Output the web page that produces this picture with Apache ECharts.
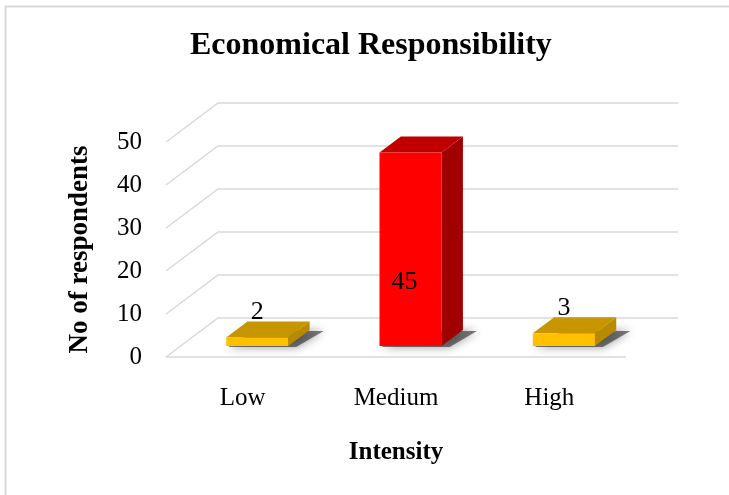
<!DOCTYPE html>
<html>
<head>
<meta charset="utf-8">
<style>
  html, body { margin: 0; padding: 0; background: #fff; }
  #chart { width: 729px; height: 495px; }
</style>
<script src="https://cdn.jsdelivr.net/npm/echarts@6/dist/echarts.min.js"></script>
</head>
<body>
<div id="chart"></div>
<script>
// Intensity levels and number of respondents in each
const categories = ['Low', 'Medium', 'High'];
const respondents = [2, 45, 3];
const yTicks = [0, 10, 20, 30, 40, 50];

const FONT = '"Liberation Serif", "Times New Roman", serif';
// depth vector of the pseudo-3D floor (front plane -> back wall), in px
const DX = 52, DY = -39;
// bar sits between these fractions of the depth
const F1 = 0.28, F2 = 0.69;
const faceColors = {
  Low:    { front: '#FFC000', top: '#C69500', side: '#B88A00' },
  Medium: { front: '#FF0000', top: '#C00000', side: '#A00000' },
  High:   { front: '#FFC000', top: '#C69500', side: '#B88A00' }
};
const yMax = yTicks[yTicks.length - 1];

const chart = echarts.init(document.getElementById('chart'));

function renderWall(params, api) {
  const v = api.value(1);
  const cs = params.coordSys;
  const p = api.coord([0, v]);
  const x0 = cs.x, x1 = cs.x + cs.width, y = p[1];
  const style = { stroke: '#D9D9D9', lineWidth: 1.5, fill: null };
  const children = [{
    type: 'polyline',
    shape: { points: [[x0, y], [x0 + DX, y + DY], [x1 + DX, y + DY]] },
    style: style
  }];
  if (v === 0) {
    children.push({ type: 'line', shape: { x1: x0, y1: y, x2: x1, y2: y }, style: style });
  }
  return { type: 'group', children: children };
}

function renderBar(params, api) {
  const i = api.value(0), v = api.value(1);
  const base = api.coord([i, 0]);
  const topP = api.coord([i, v]);
  const band = api.size([1, 0])[0];
  const w = band * 0.405;
  const c = faceColors[categories[i]];
  const xl = base[0] - w / 2 + F1 * DX;
  const xr = xl + w;
  const yb = base[1] + F1 * DY;
  const yt = topP[1] + F1 * DY;
  const ddx = (F2 - F1) * DX, ddy = (F2 - F1) * DY;
  const sx = 8, sy = 1;
  const inside = v > 0.8 * yMax;
  const labelY = inside ? yb - (yb - yt) * 0.33 : yt + ddy - 9;
  const labelX = inside ? (xl + xr) / 2 - 6 : (xl + xr) / 2;
  return {
    type: 'group',
    children: [
      {
        // soft drop shadow cast on the floor
        type: 'polygon',
        shape: { points: [[xl + sx - 6, yb + sy], [xr + sx, yb + sy], [xr + ddx + sx + 6, yb + ddy + sy], [xl + ddx + sx, yb + ddy + sy]] },
        style: { fill: 'rgba(40,40,40,0.6)', shadowBlur: 10, shadowColor: 'rgba(0,0,0,0.7)' }
      },
      {
        type: 'polygon',
        shape: { points: [[xr, yt], [xr, yb], [xr + ddx, yb + ddy], [xr + ddx, yt + ddy]] },
        style: { fill: c.side }
      },
      {
        type: 'polygon',
        shape: { points: [[xl, yt], [xr, yt], [xr + ddx, yt + ddy], [xl + ddx, yt + ddy]] },
        style: { fill: c.top }
      },
      {
        type: 'rect',
        shape: { x: xl, y: yt, width: w, height: yb - yt },
        style: { fill: c.front }
      },
      {
        type: 'text',
        x: labelX, y: labelY,
        style: {
          text: String(v), fill: '#000', font: '26px ' + FONT,
          align: 'center', verticalAlign: 'middle'
        }
      }
    ]
  };
}

chart.setOption({
  backgroundColor: '#fff',
  animation: false,
  title: {
    text: 'Economical Responsibility',
    left: 190, top: 30, padding: 0,
    textStyle: { fontFamily: FONT, fontSize: 32, fontWeight: 'bold', color: '#000' }
  },
  graphic: [{
    type: 'rect', silent: true,
    shape: { x: 5.5, y: 6.5, width: 900, height: 700 },
    style: { fill: null, stroke: '#D9D9D9', lineWidth: 2 }
  }],
  grid: { left: 166, right: 103, top: 142, bottom: 138, containLabel: false },
  xAxis: {
    type: 'category',
    data: categories,
    boundaryGap: true,
    axisLine: { show: false },
    axisTick: { show: false },
    axisLabel: { margin: 29, fontFamily: FONT, fontSize: 25, color: '#000' },
    name: 'Intensity',
    nameLocation: 'middle',
    nameGap: 83,
    nameTextStyle: { fontFamily: FONT, fontSize: 25, fontWeight: 'bold', color: '#000' }
  },
  yAxis: {
    type: 'value',
    min: 0, max: yMax, interval: 10,
    axisLine: { show: false },
    axisTick: { show: false },
    splitLine: { show: false },
    axisLabel: { margin: 24, fontFamily: FONT, fontSize: 25, color: '#000' },
    name: 'No of respondents',
    nameLocation: 'middle',
    nameRotate: 90,
    nameGap: 72,
    nameTextStyle: { fontFamily: FONT, fontSize: 27, fontWeight: 'bold', color: '#000' }
  },
  series: [
    {
      type: 'custom',
      name: 'walls',
      silent: true,
      renderItem: renderWall,
      encode: { x: 0, y: 1 },
      data: yTicks.map(function (t) { return [0, t]; }),
      z: 1
    },
    {
      type: 'custom',
      name: 'Respondents',
      renderItem: renderBar,
      encode: { x: 0, y: 1 },
      data: respondents.map(function (v, i) { return [i, v]; }),
      z: 2
    }
  ]
});
</script>
</body>
</html>
